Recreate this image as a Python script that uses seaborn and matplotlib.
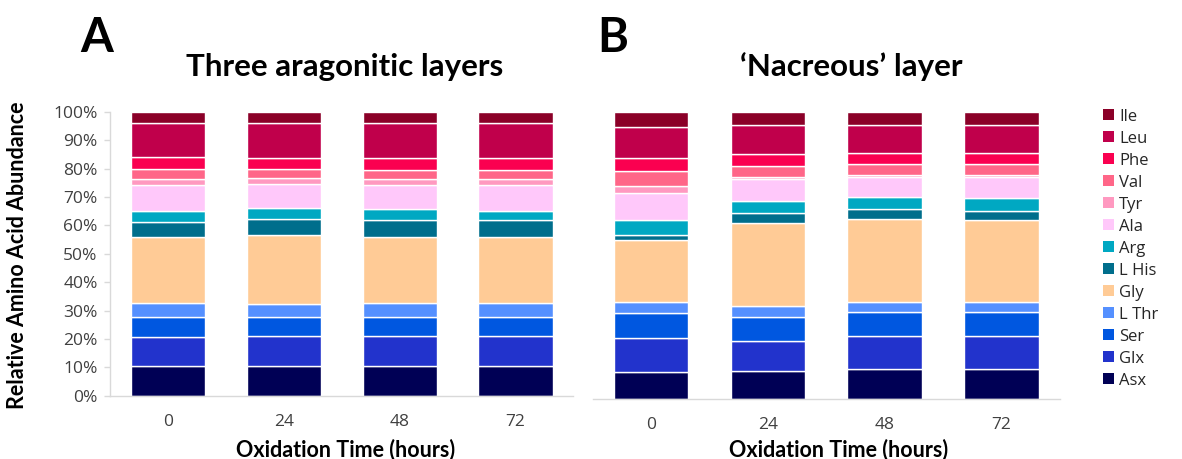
import numpy as np
import pandas as pd
import matplotlib
matplotlib.use("Agg")
import matplotlib.pyplot as plt
from matplotlib.patches import Patch
import seaborn as sns

# Oxidation time points (hours)
times = ["0", "24", "48", "72"]

# Amino acids, stacked from the bottom of each bar upwards
amino_acids = ["Asx", "Glx", "Ser", "L Thr", "Gly", "L His", "Arg",
               "Ala", "Tyr", "Val", "Phe", "Leu", "Ile"]

colors = ["#000055", "#2233CC", "#0057E0", "#5590FF", "#FFCB96", "#006E8C",
          "#00A8C2", "#FFC8FA", "#FF99C0", "#FF6688", "#FA0050", "#C0004B",
          "#8B0028"]

# Relative abundance (%) per amino acid, one value per time point
# Panel A: three aragonitic layers
asx_a = [10.4, 10.4, 10.4, 10.4]
glx_a = [10.4, 10.7, 10.7, 10.7]
ser_a = [7.0, 6.7, 6.7, 6.7]
thr_a = [4.9, 4.5, 4.7, 4.7]
gly_a = [23.3, 24.3, 23.5, 23.5]
his_a = [5.0, 5.5, 5.9, 5.9]
arg_a = [4.0, 3.9, 3.7, 3.2]
ala_a = [9.2, 8.5, 8.7, 9.2]
tyr_a = [2.2, 2.1, 2.1, 2.1]
val_a = [3.6, 3.2, 3.1, 3.1]
phe_a = [4.2, 4.0, 4.3, 4.3]
leu_a = [11.7, 12.4, 12.1, 12.1]
ile_a = [4.1, 3.8, 4.1, 4.1]

# Panel B: 'nacreous' layer
asx_b = [9.6, 10.0, 10.5, 10.5]
glx_b = [11.7, 10.3, 11.6, 11.6]
ser_b = [8.7, 8.2, 8.4, 8.4]
thr_b = [4.0, 4.0, 3.5, 3.5]
gly_b = [21.5, 28.8, 28.8, 28.5]
his_b = [1.6, 3.7, 3.4, 3.2]
arg_b = [5.4, 4.2, 4.4, 4.6]
ala_b = [9.3, 7.5, 6.8, 7.1]
tyr_b = [2.5, 0.7, 0.8, 0.6]
val_b = [5.4, 3.9, 3.8, 4.0]
phe_b = [4.5, 4.1, 3.9, 3.7]
leu_b = [10.6, 10.3, 9.7, 9.9]
ile_b = [5.2, 4.3, 4.4, 4.4]

panel_a = [asx_a, glx_a, ser_a, thr_a, gly_a, his_a, arg_a,
           ala_a, tyr_a, val_a, phe_a, leu_a, ile_a]
panel_b = [asx_b, glx_b, ser_b, thr_b, gly_b, his_b, arg_b,
           ala_b, tyr_b, val_b, phe_b, leu_b, ile_b]

sns.set_theme(style="white")
plt.rcParams["font.family"] = ["Open Sans", "DejaVu Sans"]

W, H = 1182, 459
fig = plt.figure(figsize=(W / 100, H / 100), dpi=100)
ax_a = fig.add_axes([0.0931, 0.1379, 0.3920, 0.6187])
ax_b = fig.add_axes([0.5014, 0.1301, 0.3954, 0.6253])

grey = "#D9D9D9"
tick_color = "#404040"
bold = dict(family=["Lato", "DejaVu Sans"], fontweight="bold", color="black")


def stacked(ax, series):
    bottom = np.zeros(len(times))
    for name, vals, col in zip(amino_acids, series, colors):
        df = pd.DataFrame({"time": times, "value": vals})
        sns.barplot(data=df, x="time", y="value", order=times, color=col,
                    bottom=bottom, width=0.64, errorbar=None,
                    edgecolor="white", linewidth=1.0, saturation=1,
                    ax=ax)
        bottom = bottom + np.asarray(vals)
    ax.set_xlim(-0.5, 3.5)
    ax.set_ylim(0, 100)
    ax.set_xlabel("")
    ax.set_ylabel("")
    for s in ["top", "right", "left"]:
        ax.spines[s].set_visible(False)
    ax.spines["bottom"].set_color(grey)
    ax.spines["bottom"].set_linewidth(1.0)
    ax.tick_params(axis="x", length=0, pad=13, labelsize=12.5,
                   labelcolor=tick_color)


stacked(ax_a, panel_a)
stacked(ax_b, panel_b)

# Percentage scale on the left panel only
ax_a.spines["left"].set_visible(True)
ax_a.spines["left"].set_color(grey)
ax_a.spines["left"].set_linewidth(1.0)
ax_a.set_yticks(np.arange(0, 101, 10))
ax_a.set_yticklabels([f"{v}%" for v in range(0, 101, 10)])
ax_a.tick_params(axis="y", left=True, length=4, width=1.0, color=grey,
                 labelsize=12.5, labelcolor=tick_color, pad=5)
ax_b.set_yticks([])

# Axis titles
fig.text(18 / W, 1 - 255 / H, "Relative Amino Acid Abundance", fontsize=15.5,
         rotation=90, ha="center", va="center", **bold)
fig.text(346 / W, 1 - 450 / H, "Oxidation Time (hours)", fontsize=15.5,
         ha="center", va="center", **bold)
fig.text(839 / W, 1 - 450 / H, "Oxidation Time (hours)", fontsize=15.5,
         ha="center", va="center", **bold)

# Panel letters and titles
fig.text(80 / W, 1 - 52 / H, "A", fontsize=34, va="baseline", **bold)
fig.text(597 / W, 1 - 52 / H, "B", fontsize=34, va="baseline", **bold)
fig.text(345 / W, 1 - 76 / H, "Three aragonitic layers", fontsize=22.5,
         ha="center", va="baseline", **bold)
fig.text(851 / W, 1 - 76 / H, "\u2018Nacreous\u2019 layer", fontsize=22.5,
         ha="center", va="baseline", **bold)

# Legend, top entry first
handles = [Patch(facecolor=c, edgecolor="none") for c in colors[::-1]]
fig.legend(handles, amino_acids[::-1], loc="upper left",
           bbox_to_anchor=(1096 / W, 1 - 102 / H), frameon=False,
           fontsize=12, handlelength=0.65, handleheight=0.65,
           handletextpad=0.35, labelspacing=0.36, borderaxespad=0,
           labelcolor="#262626")

fig.savefig("out.png", dpi=100)
